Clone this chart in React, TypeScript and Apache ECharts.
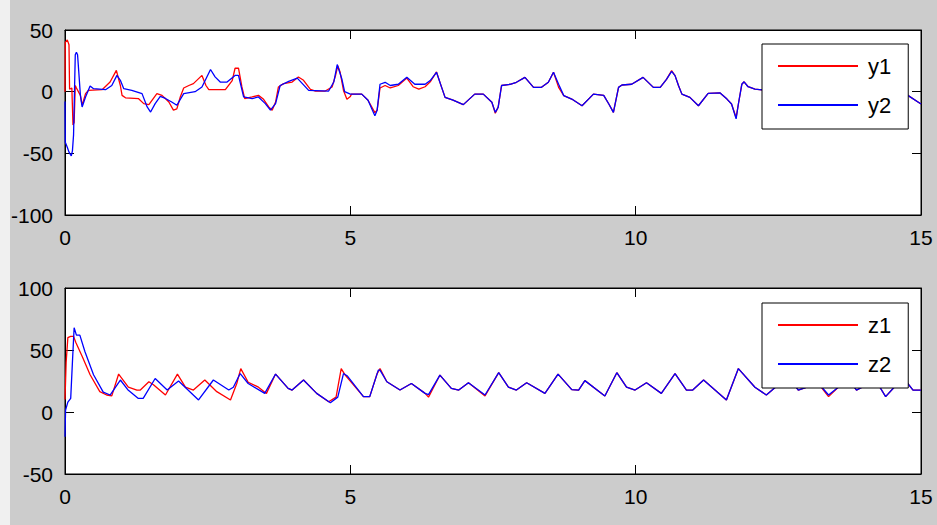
import React, { useEffect, useRef } from "react";
import * as echarts from "echarts";

// ---- data: [time, value] ----
const y1Data: number[][] = [
  [0, 0], [0.005, 40], [0.04, 42], [0.07, 38], [0.08, 2], [0.12, 3], [0.14, -27], [0.16, -25], [0.18, 5], [0.2, 3],
  [0.27, -3], [0.3, -11], [0.36, -1.6], [0.41, 1], [0.65, 1.6], [0.79, 7.8], [0.9, 17.3], [0.97, 5], [1.0, -3],
  [1.06, -5], [1.29, -5.7], [1.38, -9.7], [1.47, -10.5], [1.61, -1.6], [1.7, -3], [1.82, -8.4], [1.9, -15],
  [1.96, -14], [2.02, -4.3], [2.08, 3], [2.17, 5], [2.25, 6.5], [2.4, 13.2], [2.47, 5], [2.52, 1.6], [2.81, 1.6],
  [2.93, 9], [2.98, 19], [3.04, 19], [3.1, 3.8], [3.15, -5.7], [3.28, -4.3], [3.39, -3], [3.48, -6.2], [3.57, -12.4],
  [3.63, -15], [3.69, -8.4], [3.74, 3.8], [3.83, 6.5], [3.98, 7.8], [4.09, 11.9], [4.18, 9.2], [4.3, 1.9], [4.39, 0.5],
  [4.56, 0.5], [4.68, 3.8], [4.74, 13], [4.78, 21], [4.82, 16], [4.88, 1], [4.94, -6.2], [5.0, -4], [5.02, -2],
  [5.2, -2], [5.31, -7], [5.43, -17], [5.47, -15], [5.52, 3], [5.61, 5], [5.7, 3], [5.84, 5], [5.99, 11], [6.1, 4],
  [6.2, 2], [6.31, 4], [6.4, 8], [6.51, 16], [6.6, 3.5], [6.66, -4.6], [6.8, -6.8], [6.98, -10.5], [7.18, -2],
  [7.33, -2], [7.48, -8.6], [7.54, -17.5], [7.59, -12.7], [7.65, 5], [7.8, 6], [7.91, 7.6], [8.06, 11.6], [8.21, 3.5],
  [8.35, 3.5], [8.47, 7.6], [8.56, 15.7], [8.65, 3.5], [8.74, -3.2], [8.88, -6], [9.06, -11.4], [9.26, -2], [9.44, -3],
  [9.53, -10], [9.61, -16.8], [9.7, 3.5], [9.76, 5.4], [9.93, 6], [10.13, 11.6], [10.31, 3.5], [10.43, 3.5],
  [10.54, 10], [10.63, 17], [10.69, 13], [10.75, 5], [10.81, -2], [10.95, -4.6], [11.1, -11.4], [11.27, -1.4],
  [11.48, -1], [11.6, -6], [11.68, -10], [11.76, -21], [11.8, -10], [11.86, 6], [11.9, 8], [11.97, 4], [12.09, 2],
  [12.21, 1.5], [12.5, 8], [12.7, 15], [12.85, 3], [13.0, -4], [13.2, -10], [13.45, -1], [13.7, -2], [13.85, -14],
  [13.95, 5], [14.2, 7], [14.45, 13], [14.6, 2], [14.77, -3], [15, -10],
];

const y2Data: number[][] = [
  [0, -8], [0.005, -41], [0.04, -45], [0.07, -49], [0.11, -52], [0.13, -48], [0.15, -35], [0.18, 30], [0.2, 32],
  [0.22, 30], [0.24, 17], [0.27, -3], [0.3, -12.4], [0.36, -4.3], [0.44, 4.6], [0.5, 2.4], [0.71, 1.6], [0.82, 5],
  [0.91, 13.2], [0.97, 9.2], [1.03, 2.4], [1.17, 1], [1.35, -1.6], [1.44, -12.4], [1.5, -16.5], [1.58, -9.7],
  [1.67, -3.8], [1.76, -5.5], [1.87, -8.4], [1.96, -11], [2.08, -1.6], [2.28, 0], [2.4, 3.8], [2.55, 18], [2.63, 12],
  [2.72, 7.8], [2.84, 7.8], [2.98, 13.2], [3.04, 13.2], [3.13, -4.3], [3.28, -5.7], [3.39, -4.3], [3.51, -9.7],
  [3.6, -15], [3.69, -9.7], [3.77, 5], [3.92, 8.4], [4.07, 11], [4.27, 1], [4.62, 0.5], [4.71, 7.8], [4.77, 22],
  [4.85, 10.5], [4.9, 0], [5.0, -2], [5.2, -2], [5.31, -7], [5.43, -19.5], [5.47, -15], [5.52, 6], [5.61, 7.6],
  [5.7, 5], [5.84, 6], [5.99, 11.6], [6.13, 6], [6.31, 6], [6.4, 9], [6.51, 15.7], [6.6, 3.5], [6.66, -4.6],
  [6.8, -6.8], [6.98, -10.5], [7.18, -2], [7.33, -2], [7.48, -8.6], [7.54, -16.8], [7.59, -12.7], [7.65, 5], [7.8, 6],
  [7.91, 7.6], [8.06, 11.6], [8.21, 3.5], [8.35, 3.5], [8.47, 7.6], [8.56, 15.7], [8.65, 6], [8.74, -3.2], [8.88, -6],
  [9.06, -11.4], [9.26, -2], [9.44, -3], [9.53, -10], [9.61, -16.8], [9.7, 3.5], [9.76, 5.4], [9.93, 6],
  [10.13, 11.6], [10.31, 3.5], [10.43, 3.5], [10.54, 10], [10.63, 16.5], [10.69, 13], [10.75, 5], [10.81, -2],
  [10.95, -4.6], [11.1, -11.4], [11.27, -1.4], [11.48, -1], [11.6, -6], [11.68, -10], [11.76, -22], [11.8, -10],
  [11.86, 6], [11.9, 8], [11.97, 4], [12.09, 2], [12.21, 1.5], [12.5, 8], [12.7, 15], [12.85, 3], [13.0, -4],
  [13.2, -10], [13.45, -1], [13.7, -2], [13.85, -14], [13.95, 5], [14.2, 7], [14.45, 13], [14.6, 2], [14.77, -3],
  [15, -10],
];

const z1Data: number[][] = [
  [0, 10], [0.02, 40], [0.05, 60], [0.1, 61], [0.15, 61], [0.19, 56], [0.3, 45], [0.44, 30], [0.61, 16.4],
  [0.73, 13.7], [0.82, 13], [0.94, 30.6], [1.11, 20], [1.26, 17.7], [1.32, 17.7], [1.47, 24.4], [1.55, 22],
  [1.76, 13.7], [1.97, 30.6], [2.11, 20], [2.25, 17.7], [2.45, 25.8], [2.66, 16.4], [2.9, 9.7], [3.01, 23],
  [3.08, 35], [3.21, 24], [3.39, 20], [3.53, 15], [3.69, 30.6], [3.91, 19], [3.98, 17.7], [4.18, 25.8], [4.41, 15],
  [4.62, 8.3], [4.75, 12], [4.84, 35], [4.91, 29.8], [5.23, 12.4], [5.34, 12.4], [5.47, 31], [5.52, 35],
  [5.64, 24.4], [5.87, 17.7], [6.07, 23], [6.31, 15], [6.37, 12], [6.57, 29.8], [6.77, 19], [6.9, 17.7],
  [7.07, 23.6], [7.36, 13], [7.6, 31.7], [7.77, 20], [7.91, 17.7], [8.09, 23.6], [8.41, 15], [8.64, 30.6],
  [8.88, 18], [9.0, 17.7], [9.11, 25.3], [9.46, 12.9], [9.67, 31.7], [9.84, 20], [9.99, 17.7], [10.19, 23.6],
  [10.45, 15], [10.69, 31], [10.89, 17.7], [11.0, 17.7], [11.19, 25.8], [11.59, 9.7], [11.8, 35], [12.09, 20],
  [12.29, 13.7], [12.5, 22], [12.7, 27], [12.85, 17.7], [13.0, 20], [13.15, 26], [13.38, 12.4], [13.55, 20],
  [13.7, 28], [13.87, 17.7], [14.05, 22], [14.2, 26], [14.38, 12.4], [14.55, 21], [14.7, 27], [14.86, 17.7],
  [15, 17.7],
];

const z2Data: number[][] = [
  [0, -20], [0.01, 1.6], [0.05, 8], [0.1, 11], [0.13, 40], [0.16, 68], [0.2, 62], [0.26, 62], [0.35, 48.6],
  [0.5, 30], [0.67, 16], [0.79, 13.7], [0.97, 25.8], [1.1, 18], [1.28, 11], [1.37, 11], [1.58, 27], [1.79, 17.7],
  [1.99, 25], [2.34, 9.7], [2.6, 25.8], [2.87, 17.7], [2.95, 20], [3.07, 31], [3.21, 23], [3.5, 15], [3.69, 30.6],
  [3.91, 19], [3.98, 17.7], [4.18, 25.8], [4.41, 15], [4.65, 7.5], [4.78, 12], [4.88, 31], [4.95, 29],
  [5.23, 12.4], [5.34, 12.4], [5.49, 33.8], [5.52, 33.8], [5.64, 24.4], [5.87, 17.7], [6.07, 23], [6.31, 15],
  [6.37, 14], [6.57, 29.8], [6.77, 19], [6.9, 17.7], [7.07, 23.6], [7.36, 13.7], [7.6, 31.7], [7.77, 20],
  [7.91, 17.7], [8.09, 23.6], [8.41, 15], [8.64, 30.6], [8.88, 18], [9.0, 17.7], [9.11, 25.3], [9.46, 12.9],
  [9.67, 31.7], [9.84, 20], [9.99, 17.7], [10.19, 23.6], [10.45, 15], [10.69, 31], [10.89, 17.7], [11.0, 17.7],
  [11.19, 25.8], [11.59, 9.7], [11.8, 35], [12.09, 20], [12.29, 13.7], [12.5, 22], [12.7, 27], [12.85, 17.7],
  [13.0, 20], [13.15, 26], [13.38, 13.7], [13.55, 20], [13.7, 28], [13.87, 17.7], [14.05, 22], [14.2, 26],
  [14.38, 12.4], [14.55, 21], [14.7, 27], [14.86, 17.7], [15, 17.7],
];

const topNames = ["y1", "y2"];
const bottomNames = ["z1", "z2"];
const xRange = { min: 0, max: 15, interval: 5 };
const topRange = { min: -100, max: 50, interval: 50 };
const bottomRange = { min: -50, max: 100, interval: 50 };

const FONT = "'Liberation Sans', Arial, Helvetica, sans-serif";

export default function App() {
  const ref = useRef<HTMLDivElement>(null);

  useEffect(() => {
    if (!ref.current) return;
    const chart = echarts.init(ref.current, null, { renderer: "svg" });

    const grids = [
      { left: 65, top: 30, width: 856, height: 185 },
      { left: 65, top: 288, width: 856, height: 186 },
    ];

    const labelStyle = (show: boolean) => ({
      show,
      margin: 12,
      color: "#000",
      fontSize: 21,
      fontFamily: FONT,
      showMinLabel: true,
      showMaxLabel: true,
    });

    const mkX = (gridIndex: number, position: "bottom" | "top", labels: boolean) => ({
      type: "value",
      gridIndex,
      position,
      ...xRange,
      axisLine: { show: true, onZero: false, lineStyle: { color: "#000", width: 1 } },
      axisTick: { show: true, inside: true, length: 9, lineStyle: { color: "#000" } },
      axisLabel: labelStyle(labels),
      splitLine: { show: false },
    });

    const mkY = (gridIndex: number, position: "left" | "right", labels: boolean, range: any) => ({
      type: "value",
      gridIndex,
      position,
      ...range,
      axisLine: { show: true, onZero: false, lineStyle: { color: "#000", width: 1 } },
      axisTick: { show: true, inside: true, length: 9, lineStyle: { color: "#000" } },
      axisLabel: labelStyle(labels),
      splitLine: { show: false },
    });

    const mkLegend = (names: string[], top: number) => ({
      show: true,
      data: names,
      orient: "vertical",
      left: 762,
      top,
      padding: [11, 17, 13, 16],
      itemGap: 17,
      itemWidth: 80,
      itemHeight: 2,
      icon: "rect",
      backgroundColor: "#fff",
      borderColor: "#000",
      borderWidth: 1,
      borderRadius: 0,
      textStyle: { color: "#000", fontSize: 22, fontFamily: FONT, padding: [0, 0, 0, 5] },
      selectedMode: false,
    });

    const mkSeries = (name: string, data: number[][], color: string, axis: number) => ({
      name,
      type: "line",
      xAxisIndex: axis,
      yAxisIndex: axis,
      data,
      showSymbol: false,
      symbol: "none",
      lineStyle: { color, width: 1.3 },
      itemStyle: { color },
      clip: true,
    });

    chart.setOption({
      animation: false,
      backgroundColor: "#cccccc",
      grid: grids.map((g) => ({
        ...g,
        show: true,
        backgroundColor: "#ffffff",
        borderColor: "#000",
        borderWidth: 1,
        containLabel: false,
      })),
      xAxis: [mkX(0, "bottom", true), mkX(0, "top", false), mkX(1, "bottom", true), mkX(1, "top", false)],
      yAxis: [
        mkY(0, "left", true, topRange),
        mkY(0, "right", false, topRange),
        mkY(1, "left", true, bottomRange),
        mkY(1, "right", false, bottomRange),
      ],
      legend: [mkLegend(topNames, 44), mkLegend(bottomNames, 303)],
      series: [
        mkSeries("y1", y1Data, "#ff0000", 0),
        mkSeries("y2", y2Data, "#0000ff", 0),
        mkSeries("z1", z1Data, "#ff0000", 2),
        mkSeries("z2", z2Data, "#0000ff", 2),
      ],
      graphic: [
        {
          type: "rect",
          left: 0,
          top: 0,
          shape: { x: 0, y: 0, width: 10, height: 525 },
          style: { fill: "#f0f0f0" },
          z: -1,
          silent: true,
        },
      ],
    });

    return () => chart.dispose();
  }, []);

  return (
    <div
      ref={ref}
      style={{ position: "fixed", left: 0, top: 0, width: 937, height: 525 }}
    />
  );
}
